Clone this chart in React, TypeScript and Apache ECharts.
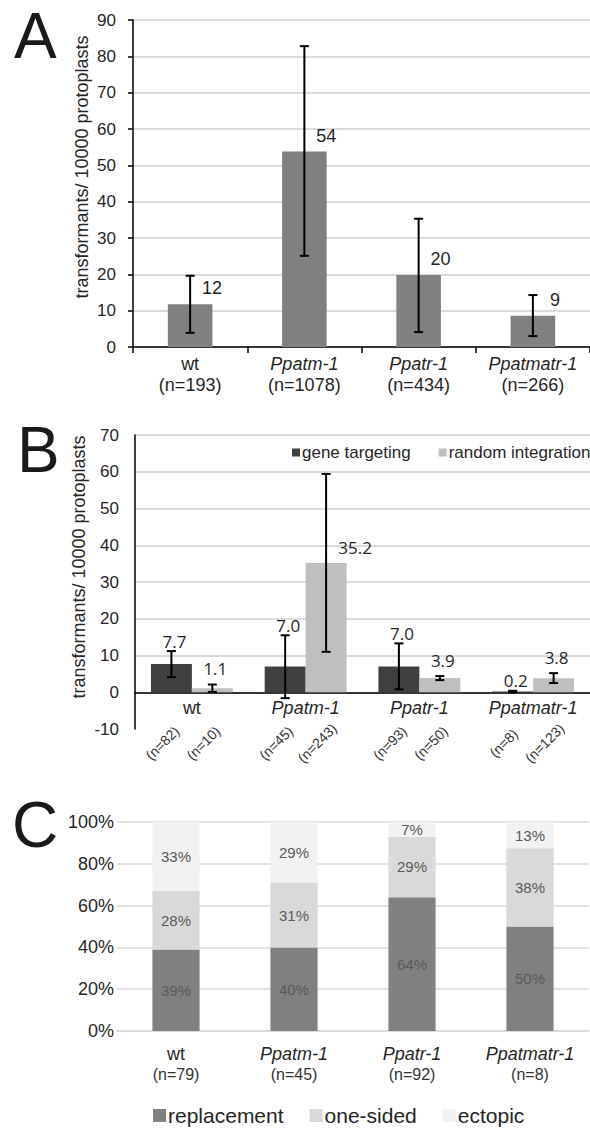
import { useEffect, useRef } from "react";
import * as echarts from "echarts";

// ---------- data ----------
const categories = ["wt", "Ppatm-1", "Ppatr-1", "Ppatmatr-1"];

// Panel A
const aValues = [11.8, 53.8, 19.8, 8.6];
const aLow = [3.9, 25.1, 4.1, 3.0];
const aHigh = [19.6, 82.8, 35.3, 14.3];
const aN = ["193", "1078", "434", "266"];

// Panel B
const bSeriesNames = ["gene targeting", "random integration"];
const bGT = [7.7, 7.0, 7.0, 0.2];
const bGTLow = [4.1, -1.6, 0.8, 0.0];
const bGTHigh = [11.2, 15.5, 13.3, 0.4];
const bGTN = ["82", "45", "93", "8"];
const bRI = [1.1, 35.2, 3.9, 3.8];
const bRILow = [0.1, 11.0, 3.3, 2.5];
const bRIHigh = [2.1, 59.4, 4.4, 5.2];
const bRIN = ["10", "243", "50", "123"];

// Panel C
const cSeriesNames = ["replacement", "one-sided", "ectopic"];
const cReplacement = [39, 40, 64, 50];
const cOneSided = [28, 31, 29, 37.5];
const cEctopic = [33, 29, 7, 12.5];
const cN = ["79", "45", "92", "8"];

const yAxisTitle = "transformants/ 10000 protoplasts";

// ---------- styles ----------
const FONT = "Liberation Sans";
const TXT = "#262626";
const GRID_LINE = "#cfcfcf";

const nameRich = {
  r: { fontFamily: FONT, fontSize: 18, color: TXT, lineHeight: 21 },
  i: { fontFamily: FONT, fontSize: 18, color: TXT, lineHeight: 21, fontStyle: "italic" },
};
const catName = (v: string) => `{${v === "wt" ? "r" : "i"}|${v}}`;

function errorBarRender(
  lows: number[],
  highs: number[],
  vals: number[] | null,
  ns: string[] | null,
  side: number,
  labelDy: number,
  barFrac: number,
  withCatLabel: boolean
) {
  return (params: any, api: any) => {
    const i = params.dataIndex;
    const band = api.size([1, 0])[0];
    const c0 = api.coord([i, lows[i]]);
    const c1 = api.coord([i, highs[i]]);
    const x = c0[0] + side * band * barFrac * 0.5;
    const yLo = c0[1];
    const yHi = c1[1];
    const cap = 4.5;
    const ls = { stroke: "#000", lineWidth: 2 };
    const children: any[] = [
      { type: "line", shape: { x1: x, y1: yLo, x2: x, y2: yHi }, style: ls },
      { type: "line", shape: { x1: x - cap, y1: yLo, x2: x + cap, y2: yLo }, style: ls },
      { type: "line", shape: { x1: x - cap, y1: yHi, x2: x + cap, y2: yHi }, style: ls },
    ];
    if (vals) {
      const v = vals[i];
      const beside = highs[i] - v > 20;
      const topY = api.coord([i, v])[1];
      children.push({
        type: "text",
        x: beside ? x + 29 : x + 3,
        y: beside ? topY - 15 : yHi + labelDy,
        style: {
          text: v.toFixed(1),
          fontFamily: "Open Sans",
          fontSize: 17,
          fill: TXT,
          align: "center",
          verticalAlign: "middle",
        },
      });
    }
    if (ns) {
      const base = api.coord([i, -10])[1];
      children.push({
        type: "text",
        x: x - 9,
        y: base + 14,
        rotation: Math.PI / 4,
        style: {
          text: `(n=${ns[i]})`,
          fontFamily: FONT,
          fontSize: 14,
          fill: "#333",
          align: "center",
          verticalAlign: "middle",
        },
      });
    }
    if (withCatLabel) {
      const z = api.coord([i, 0]);
      const name = categories[i];
      children.push({
        type: "text",
        x: z[0],
        y: z[1] + 16,
        style: {
          text: name,
          fontFamily: FONT,
          fontSize: 18,
          fontStyle: name === "wt" ? "normal" : "italic",
          fill: TXT,
          align: "center",
          verticalAlign: "middle",
        },
      });
    }
    return { type: "group", children };
  };
}

export default function App() {
  const ref = useRef<HTMLDivElement>(null);

  useEffect(() => {
    if (!ref.current) return;
    const chart = echarts.init(ref.current, undefined, { renderer: "svg" });

    const bSplitColors = ["rgba(0,0,0,0)", GRID_LINE, GRID_LINE, GRID_LINE, GRID_LINE, GRID_LINE, GRID_LINE, GRID_LINE, GRID_LINE];

    const option: any = {
      animation: false,
      backgroundColor: "#fff",
      textStyle: { fontFamily: FONT },
      grid: [
        { left: 133, top: 20, width: 457, height: 327 },
        { left: 135, top: 435, width: 456, height: 294 },
        { left: 117, top: 822, width: 472, height: 209 },
      ],
      legend: [
        {
          data: bSeriesNames,
          orient: "horizontal",
          left: 292,
          top: 444,
          width: 400,
          padding: 0,
          icon: "rect",
          itemWidth: 8,
          itemHeight: 8,
          itemGap: 28,
          textStyle: { fontFamily: FONT, fontSize: 17, color: TXT, padding: [0, 0, 0, -3] },
          selectedMode: false,
        },
        {
          data: cSeriesNames,
          orient: "horizontal",
          left: 153,
          top: 1105,
          width: 500,
          padding: 0,
          icon: "rect",
          itemWidth: 13,
          itemHeight: 13,
          itemGap: 26,
          textStyle: { fontFamily: FONT, fontSize: 21, color: TXT, padding: [0, 0, 0, -3] },
          selectedMode: false,
        },
      ],
      xAxis: [
        {
          type: "category",
          gridIndex: 0,
          data: categories,
          axisLine: { lineStyle: { color: "#000", width: 1.5 } },
          axisTick: { show: true, length: 6, lineStyle: { color: "#000", width: 1.5 } },
          axisLabel: {
            margin: 6,
            formatter: (v: string, i: number) => `${catName(v)}\n{r|(n=${aN[i]})}`,
            rich: nameRich,
          },
        },
        {
          type: "category",
          gridIndex: 1,
          data: categories,
          axisLine: { onZero: true, lineStyle: { color: "#000", width: 1.5 } },
          axisTick: { show: false },
          axisLabel: { show: false },
        },
        {
          type: "category",
          gridIndex: 2,
          data: categories,
          axisLine: { lineStyle: { color: "#d9d9d9", width: 1.5 } },
          axisTick: { show: false },
          axisLabel: {
            margin: 12,
            formatter: (v: string, i: number) => `${catName(v)}\n{n|(n=${cN[i]})}`,
            rich: {
              ...nameRich,
              n: { fontFamily: FONT, fontSize: 16, color: "#333", lineHeight: 21 },
            },
          },
        },
      ],
      yAxis: [
        {
          type: "value",
          gridIndex: 0,
          min: 0,
          max: 90,
          interval: 10,
          axisLine: { show: true, lineStyle: { color: "#000", width: 1.5 } },
          axisTick: { show: true, length: 5, lineStyle: { color: "#000", width: 1.5 } },
          axisLabel: { margin: 17, fontFamily: FONT, fontSize: 17, color: TXT },
          splitLine: { lineStyle: { color: GRID_LINE, width: 1.5 } },
        },
        {
          type: "value",
          gridIndex: 1,
          min: -10,
          max: 70,
          interval: 10,
          axisLine: { show: true, lineStyle: { color: "#000", width: 1.5 } },
          axisTick: { show: false },
          axisLabel: { margin: 16, fontFamily: FONT, fontSize: 17, color: TXT },
          splitLine: { lineStyle: { color: bSplitColors, width: 1.5 } },
        },
        {
          type: "value",
          gridIndex: 2,
          min: 0,
          max: 100,
          interval: 20,
          axisLine: { show: false },
          axisTick: { show: false },
          axisLabel: { margin: 3, fontFamily: FONT, fontSize: 18, color: TXT, formatter: "{value}%" },
          splitLine: { lineStyle: { color: "#d9d9d9", width: 1.5 } },
        },
      ],
      series: [
        // Panel A
        {
          type: "bar",
          xAxisIndex: 0,
          yAxisIndex: 0,
          data: aValues,
          barWidth: "39%",
          itemStyle: { color: "#808080" },
          label: {
            show: true,
            position: "top",
            offset: [22, -2],
            formatter: (p: any) => String(Math.round(p.value)),
            fontFamily: FONT,
            fontSize: 18,
            color: TXT,
          },
        },
        {
          type: "custom",
          xAxisIndex: 0,
          yAxisIndex: 0,
          clip: false,
          silent: true,
          z: 10,
          data: categories.map((_, i) => [i, aLow[i], aHigh[i]]),
          encode: { x: 0, y: [1, 2] },
          renderItem: errorBarRender(aLow, aHigh, null, null, 0, 0, 0, false),
        },
        // Panel B
        {
          name: bSeriesNames[0],
          type: "bar",
          xAxisIndex: 1,
          yAxisIndex: 1,
          data: bGT,
          barWidth: "36%",
          barGap: "0%",
          itemStyle: { color: "#404040" },
        },
        {
          name: bSeriesNames[1],
          type: "bar",
          xAxisIndex: 1,
          yAxisIndex: 1,
          data: bRI,
          barWidth: "36%",
          barGap: "0%",
          itemStyle: { color: "#bfbfbf" },
        },
        {
          type: "custom",
          xAxisIndex: 1,
          yAxisIndex: 1,
          clip: false,
          silent: true,
          z: 10,
          data: categories.map((_, i) => [i, bGTLow[i], bGTHigh[i]]),
          encode: { x: 0, y: [1, 2] },
          renderItem: errorBarRender(bGTLow, bGTHigh, bGT, bGTN, -1, -10, 0.36, true),
        },
        {
          type: "custom",
          xAxisIndex: 1,
          yAxisIndex: 1,
          clip: false,
          silent: true,
          z: 10,
          data: categories.map((_, i) => [i, bRILow[i], bRIHigh[i]]),
          encode: { x: 0, y: [1, 2] },
          renderItem: errorBarRender(bRILow, bRIHigh, bRI, bRIN, 1, -16, 0.36, false),
        },
        // Panel C
        ...[cReplacement, cOneSided, cEctopic].map((d, k) => ({
          name: cSeriesNames[k],
          type: "bar",
          xAxisIndex: 2,
          yAxisIndex: 2,
          stack: "c",
          data: d,
          barWidth: "40%",
          itemStyle: { color: ["#808080", "#d9d9d9", "#f2f2f2"][k] },
          label: {
            show: true,
            position: "inside",
            formatter: (p: any) => `${Math.round(p.value)}%`,
            fontFamily: FONT,
            fontSize: 15,
            color: "#595959",
          },
        })),
      ],
      graphic: [
        { type: "text", x: 14, y: 36, style: { text: "A", fontFamily: FONT, fontSize: 64, fill: "#1a1a1a", verticalAlign: "middle" } },
        { type: "text", x: 17, y: 450, style: { text: "B", fontFamily: FONT, fontSize: 64, fill: "#1a1a1a", verticalAlign: "middle" } },
        { type: "text", x: 12, y: 825, style: { text: "C", fontFamily: FONT, fontSize: 64, fill: "#1a1a1a", verticalAlign: "middle" } },
        {
          type: "text",
          x: 82,
          y: 167,
          rotation: Math.PI / 2,
          style: { text: yAxisTitle, fontFamily: FONT, fontSize: 18, fill: TXT, align: "center", verticalAlign: "middle" },
        },
        {
          type: "text",
          x: 79,
          y: 567,
          rotation: Math.PI / 2,
          style: { text: yAxisTitle, fontFamily: FONT, fontSize: 18, fill: TXT, align: "center", verticalAlign: "middle" },
        },
      ],
    };

    chart.setOption(option);
    return () => chart.dispose();
  }, []);

  return (
    <div
      ref={ref}
      style={{ position: "absolute", left: 0, top: 0, width: 590, height: 1129, background: "#fff" }}
    />
  );
}
